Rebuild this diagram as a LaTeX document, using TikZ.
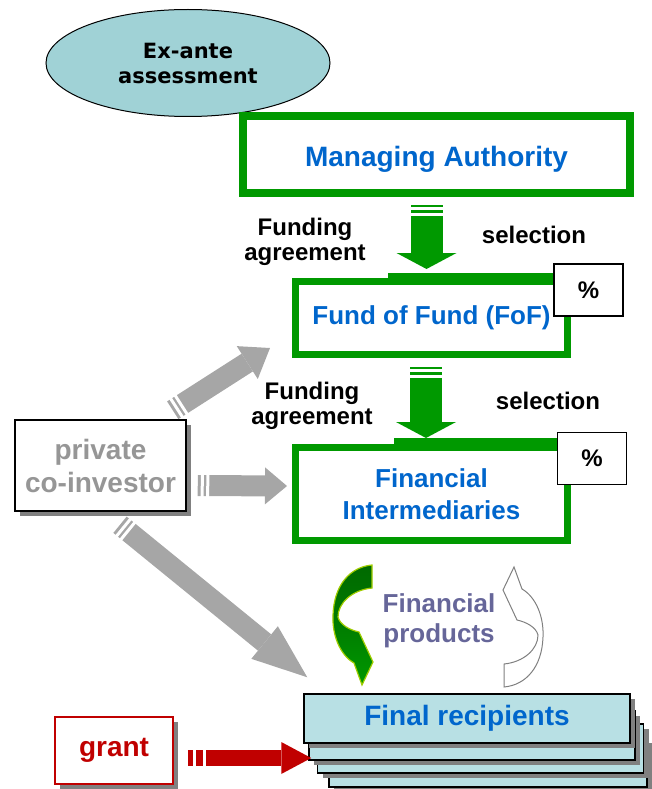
\documentclass[tikz,border=0pt]{standalone}
\usepackage{fontspec}
\setmainfont{Liberation Sans}
\newfontfamily\exantefont{DejaVu Sans}
\usetikzlibrary{arrows.meta,positioning,calc,shapes.geometric,shadows,decorations.markings}

\definecolor{fundgreen}{RGB}{0,153,0}
\definecolor{darkfund}{RGB}{0,105,0}
\definecolor{limegreen}{RGB}{160,205,0}
\definecolor{titleblue}{RGB}{0,102,204}
\definecolor{exantefill}{RGB}{160,210,214}
\definecolor{recipfill}{RGB}{184,224,228}
\definecolor{coinvgray}{RGB}{150,150,150}
\definecolor{arrowgray}{RGB}{166,166,166}
\definecolor{grantred}{RGB}{192,0,0}
\definecolor{prodblue}{RGB}{102,102,153}

% curved block arrow beside the financial products
\newcommand{\bentpath}{(372,565) -- (372,588) .. controls (352,590) and (338,603) .. (338,617)
  .. controls (340,625) and (350,630) .. (359,632) -- (373,662) -- (362,685) -- (354,663)
  .. controls (340,655) and (332,635) .. (333,615) .. controls (334,585) and (350,567) .. (372,565) -- cycle}

\tikzset{tailcuts/.style n args={3}{postaction={decorate, decoration={markings,
  mark=at position #2 with {\fill[white] (-1.5pt,-#1) rectangle (1.5pt,#1);},
  mark=at position #3 with {\fill[white] (-1.5pt,-#1) rectangle (1.5pt,#1);}}}}}

\begin{document}
\begin{tikzpicture}[x=1pt, y=-1pt]
\tikzstyle{fundbox}=[draw=fundgreen, line width=7pt, fill=white, text=titleblue, align=center, inner sep=0pt, font=\fontsize{26}{32}\selectfont\bfseries]
\tikzstyle{pctbox}=[draw, line width=1.2pt, fill=white, minimum width=69pt, minimum height=52pt, font=\fontsize{24}{28}\selectfont\bfseries]
\tikzstyle{flowtext}=[align=center, font=\fontsize{24}{25}\selectfont\bfseries]
\tikzstyle{shadowed}=[drop shadow={shadow xshift=5pt, shadow yshift=-5pt, fill=black!50, opacity=1}]
\tikzstyle{stack}=[draw, line width=1.5pt, fill=recipfill, minimum width=326pt, minimum height=49pt, shadowed]
\tikzstyle{garrow}=[fundgreen, line width=32pt, -{Triangle[length=16pt, width=60pt, line width=0pt]}]
\tikzstyle{ciarrow}=[arrowgray, line width=21pt]

\useasboundingbox (0,0) rectangle (651,789);

\node[ellipse, draw, line width=1pt, fill=exantefill, minimum width=284pt, minimum height=107pt, align=center,
  font=\exantefont\fontsize{21}{25}\selectfont\bfseries] (exante) at (188,63) {Ex-ante\\assessment};

\node[fundbox, line width=8pt, minimum width=387pt, minimum height=77pt, text height=23pt, text depth=0pt,
  font=\fontsize{28}{32}\selectfont\bfseries] (MA) at (436.5,154.5) {Managing Authority};
\node[fundbox, minimum width=272pt, minimum height=73pt] (FoF) at (431.5,318) {Fund of Fund (FoF)};
\node[fundbox, minimum width=272pt, minimum height=93pt] (FI) at (431.5,494) {Financial\\Intermediaries};
\fill[fundgreen] ([xshift=-44pt]FoF.north) rectangle ([yshift=5pt]FoF.north east);
\fill[fundgreen] ([xshift=-38pt]FI.north) rectangle ([yshift=6pt]FI.north east);

\node[pctbox] (pctFoF) at ([shift={(17.5,12)}]FoF.north east) {\%};
\node[pctbox] (pctFI) at ([shift={(21,14.5)}]FI.north east) {\%};

\node[flowtext] (fund1) at (305,242) {Funding\\agreement};
\node[flowtext] (sel1) at (534,235) {selection};
\node[flowtext] (fund2) at (312,406) {Funding\\agreement};
\node[flowtext] (sel2) at (548,401) {selection};

\node[draw, line width=1.5pt, fill=white, text=coinvgray, minimum width=171pt, minimum height=91pt, shadowed, align=center,
  font=\fontsize{28}{33}\selectfont\bfseries] (CI) at (100.5,465.5) {private\\co-investor};

\node[stack, minimum width=318pt] (FR4) at (488,762.5) {};
\node[stack] (FR3) at (480.5,748.5) {};
\node[stack] (FR2) at (472,735.5) {};
\node[stack, text=titleblue, font=\fontsize{28}{32}\selectfont\bfseries] (FR1) at (467,718.5) {Final recipients};

\node[draw=grantred, line width=1.5pt, fill=white, text=grantred, minimum width=118pt, minimum height=67pt, shadowed,
  font=\fontsize{28}{32}\selectfont\bfseries] (grant) at (114,750.5) {grant};

% financial products loop
\draw[limegreen, line width=1.2pt, top color=darkfund, bottom color=fundgreen, middle color=darkfund!60!fundgreen] \bentpath;
\begin{scope}[rotate around={180:(438,626)}]
\draw[gray, line width=1pt, fill=white] \bentpath;
\end{scope}
\node[text=prodblue, align=center, font=\fontsize{26}{30}\selectfont\bfseries] (prod) at (439,621) {Financial\\products};

% block arrows
\draw[garrow, tailcuts={18pt}{3pt}{9pt}, shorten >=9pt] ([xshift=-10pt, yshift=-8pt]MA.south) -- ([xshift=-10pt]MA.south |- FoF.north);
\draw[garrow, tailcuts={18pt}{3pt}{9pt}, shorten >=6pt] ([xshift=-5.5pt, yshift=-9pt]FoF.south) -- ([xshift=-5.5pt]FoF.south |- FI.north);
\draw[ciarrow, tailcuts={12pt}{4.5pt}{10pt}, -{Triangle[length=27pt, width=39pt, line width=0pt]}] ([shift={(-14,-9)}]CI.north east) -- ([shift={(-22,-10)}]FoF.south west);
\draw[ciarrow, tailcuts={12pt}{4.5pt}{10pt}, -{Triangle[length=22pt, width=37pt, line width=0pt]}] ([shift={(11,20)}]CI.east) -- ([shift={(-5,-8)}]FI.west);
\draw[ciarrow, tailcuts={12pt}{4.5pt}{10pt}, -{Triangle[length=55pt, width=42pt, line width=0pt]}] ([shift={(19.5,13)}]CI.south) -- ([shift={(4,-16)}]FR1.north west);
\draw[grantred, line width=16pt, tailcuts={9pt}{6.5pt}{17pt}, -{Triangle[length=30pt, width=32pt, line width=0pt]}] ([shift={(14,7.5)}]grant.east) -- ([shift={(3,22.5)}]FR2.west);
\end{tikzpicture}
\end{document}
